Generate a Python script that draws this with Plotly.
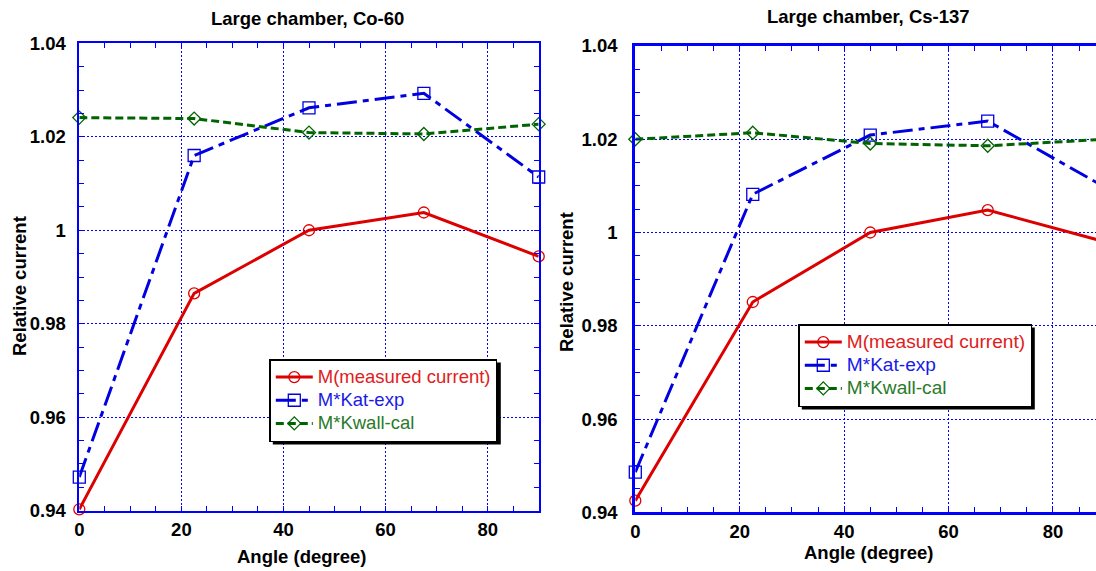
import plotly.graph_objects as go

W, H = 1096, 571

# ---------------- data ----------------
angles = [0, 22.5, 45, 67.5, 90]
co60_measured = [0.9403, 0.9865, 1.0000, 1.0038, 0.9944]
co60_kat_exp = [0.9472, 1.0160, 1.0262, 1.0293, 1.0114]
co60_kwall_cal = [1.0241, 1.0239, 1.0209, 1.0206, 1.0227]
cs137_measured = [0.9425, 0.9851, 1.0000, 1.0048, 0.9980]
cs137_kat_exp = [0.9486, 1.0082, 1.0209, 1.0239, 1.0097]
cs137_kwall_cal = [1.0200, 1.0214, 1.0191, 1.0186, 1.0200]

series_names = ["M(measured current)", "M*Kat-exp", "M*Kwall-cal"]
panel_titles = ["Large chamber, Co-60", "Large chamber, Cs-137"]
x_title = "Angle (degree)"
y_title = "Relative current"
x_tickvals = [0, 20, 40, 60, 80]
x_ticktext = ["0", "20", "40", "60", "80"]
y_tickvals = [0.94, 0.96, 0.98, 1.00, 1.02, 1.04]
y_ticktext = ["0.94", "0.96", "0.98", "1", "1.02", "1.04"]


def px(x):
    return x / W


def py(y):
    return 1 - y / H


FONT = "Liberation Sans, Arial, sans-serif"
FS = 18.5
LEG_FS = 15.5
LEG_TEXT_FS = [18.5, 19.1]
BLUE_AX = "#0000ff"

line_colors = ["#dd0000", "#0000e0", "#006400"]
text_colors = ["#e02020", "#1a1ae6", "#2a7a2a"]
symbols = ["circle-open", "square-open", "diamond-open"]
msizes = [11, 12, 10]
dashes = ["solid", "20px,6px,6px,6px", "8px,4px"]

fig = go.Figure()

panels = [
    (co60_measured, co60_kat_exp, co60_kwall_cal),
    (cs137_measured, cs137_kat_exp, cs137_kwall_cal),
]
for p, series in enumerate(panels):
    xa = "x" if p == 0 else "x2"
    ya = "y" if p == 0 else "y2"
    lg = "legend" if p == 0 else "legend2"
    for i, vals in enumerate(series):
        fig.add_trace(go.Scatter(
            x=angles, y=vals, xaxis=xa, yaxis=ya, legend=lg,
            mode="lines+markers",
            name=(f"<span style='color:{text_colors[i]};font-size:{LEG_TEXT_FS[p]}px'>"
                  f"{series_names[i]}</span>"),
            line=dict(color=line_colors[i], width=3, dash=dashes[i]),
            marker=dict(symbol=symbols[i], size=msizes[i], color=line_colors[i],
                        line=dict(width=1.3, color=line_colors[i])),
            cliponaxis=False,
        ))


def xaxis_common(lw, standoff):
    return dict(
        showline=True, linecolor=BLUE_AX, linewidth=lw,
        ticks="inside", ticklen=5, tickcolor=BLUE_AX, tickwidth=1,
        tickvals=x_tickvals, ticktext=x_ticktext,
        showgrid=True, gridcolor=BLUE_AX, gridwidth=1, griddash="2px,2px",
        zeroline=False,
        tickfont=dict(family=FONT, size=FS, color="black", weight="bold"),
        minor=dict(dtick=5, tick0=0, ticks="inside", ticklen=5,
                   tickcolor=BLUE_AX, tickwidth=1, showgrid=False),
        ticklabelstandoff=standoff,
    )


def yaxis_common(lw, standoff):
    return dict(
        showline=True, linecolor=BLUE_AX, linewidth=lw,
        ticks="inside", ticklen=5, tickcolor=BLUE_AX, tickwidth=1,
        tickvals=y_tickvals, ticktext=y_ticktext,
        showgrid=True, gridcolor=BLUE_AX, gridwidth=1, griddash="2px,2px",
        zeroline=False, range=[0.94, 1.04],
        tickfont=dict(family=FONT, size=FS, color="black", weight="bold"),
        minor=dict(dtick=0.005, tick0=0.94, ticks="inside", ticklen=5,
                   tickcolor=BLUE_AX, tickwidth=1, showgrid=False),
        ticklabelstandoff=standoff,
    )


xa1 = xaxis_common(1.5, 1)
xa1.update(domain=[px(79.3), px(538.7)], range=[0, 90], anchor="y", mirror="ticks")
ya1 = yaxis_common(1.5, 8)
ya1.update(domain=[py(510.7), py(43.3)], anchor="x", mirror="ticks")

xa2 = xaxis_common(3, 0)
xa2.update(domain=[px(635.3), 1.0], range=[0, (W - 635.3) / 5.221], anchor="y2", mirror="ticks")
ya2 = yaxis_common(3, 11)
ya2.update(domain=[py(512.3), py(46)], anchor="x2", mirror=False)

legend_common = dict(
    xanchor="left", yanchor="top", bgcolor="white", bordercolor="black",
    borderwidth=1.5, font=dict(family=FONT, size=LEG_FS, color="black"),
    itemwidth=37, tracegroupgap=0,
)
LEG1 = (269.3, 359)
LEG2 = (798.3, 324)
lg1 = dict(legend_common, x=px(LEG1[0]), y=py(LEG1[1]))
lg2 = dict(legend_common, x=px(LEG2[0]), y=py(LEG2[1]))

annotations = []
bold = dict(family=FONT, size=FS, color="black", weight="bold")
for t, (cx, cy) in zip(panel_titles, [(307, 18.5), (868, 16.5)]):
    annotations.append(dict(text=t, x=px(cx), y=py(cy), xref="paper", yref="paper",
                            showarrow=False, xanchor="center", yanchor="middle", font=bold))
for cx, cy in [(302, 556), (869, 552)]:
    annotations.append(dict(text=x_title, x=px(cx), y=py(cy), xref="paper", yref="paper",
                            showarrow=False, xanchor="center", yanchor="middle", font=bold))
for cx, cy in [(19, 286), (566, 282)]:
    annotations.append(dict(text=y_title, x=px(cx), y=py(cy), xref="paper", yref="paper",
                            showarrow=False, xanchor="center", yanchor="middle", font=bold,
                            textangle=-90))

# drop shadows behind the two legend boxes
LEG_W = [228, 233]
LEG_H = 82
shapes = []
for (lx, ly), lw in zip([LEG1, LEG2], LEG_W):
    x0, y0 = lx + 3.5, ly + 3.5
    x1, y1 = x0 + lw, y0 + LEG_H
    shapes.append(dict(type="rect", xref="paper", yref="paper",
                       x0=px(x0), x1=px(x1), y0=py(y1), y1=py(y0),
                       fillcolor="black", line=dict(width=0), layer="above"))

fig.update_layout(
    width=W, height=H, margin=dict(l=0, r=0, t=0, b=0, autoexpand=False),
    paper_bgcolor="white", plot_bgcolor="white",
    xaxis=xa1, yaxis=ya1, xaxis2=xa2, yaxis2=ya2,
    legend=lg1, legend2=lg2, showlegend=True,
    annotations=annotations, shapes=shapes,
    font=dict(family=FONT, size=FS),
)

fig.write_html("out.html")
